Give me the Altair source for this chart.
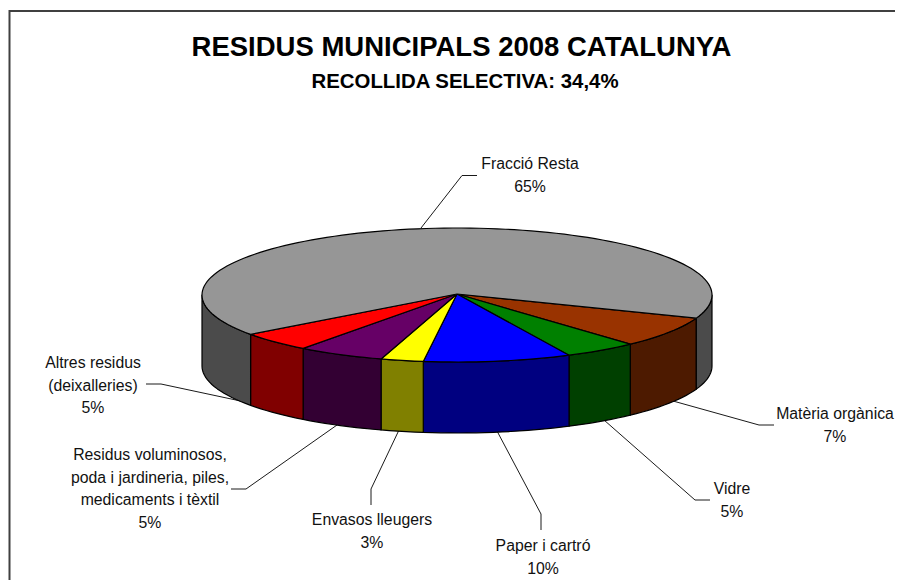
import math
import altair as alt
import pandas as pd

TITLE = "RESIDUS MUNICIPALS 2008 CATALUNYA"
SUBTITLE = "RECOLLIDA SELECTIVA: 34,4%"

categories = ["Matèria orgànica", "Vidre", "Paper i cartró", "Envasos lleugers",
              "Residus voluminosos", "Altres residus", "Fracció Resta"]
shares = [7.5, 4.65, 9.35, 2.7, 5.5, 4.7, 65.6]
top_colors = ["#993300", "#008000", "#0000ff", "#ffff00", "#660066", "#ff0000", "#969696"]
wall_colors = ["#4d1a00", "#004000", "#000080", "#808000", "#330033", "#800000", "#4b4b4b"]

label_lines = [
    ["Matèria orgànica", "7%"],
    ["Vidre", "5%"],
    ["Paper i cartró", "10%"],
    ["Envasos lleugers", "3%"],
    ["Residus voluminosos,", "poda i jardineria, piles,", "medicaments i tèxtil", "5%"],
    ["Altres residus", "(deixalleries)", "5%"],
    ["Fracció Resta", "65%"],
]
label_x = [835, 732, 543, 372, 150, 93, 530]
label_y0 = [414, 489, 546, 520, 455, 363, 164]
LINE_STEP = 22.6

leader_x = [[673, 759, 774], [604, 695, 710], [497, 541, 541], [399, 371, 371],
            [337, 246, 231], [250, 161, 146], [421, 462, 477]]
leader_y = [[401, 425, 425], [420, 500, 500], [431, 514, 530], [430, 489, 505],
            [425, 489, 489], [403, 384, 384], [228, 175.5, 175.5]]

frame_x = [903, 9.5, 9.5]
frame_y = [11, 11, 580]

CX, CY, RX, RY, DEPTH = 457, 295, 255, 67, 71
START = 20.2


def pt(t, dy=0.0):
    r = math.radians(t)
    return [CX + RX * math.cos(r), CY + RY * math.sin(r) + dy]


def arc(a, b, dy=0.0):
    n = max(2, int(abs(b - a) / 2) + 1)
    return [pt(a + (b - a) * i / n, dy) for i in range(n + 1)]


def poly(coords, fill):
    ring = coords + [coords[0]]
    return {"type": "Feature", "properties": {"fill": fill},
            "geometry": {"type": "Polygon", "coordinates": [ring]}}


walls, tops = [], []
a = START
for share, tc, wc in zip(shares, top_colors, wall_colors):
    b = a + share * 3.6
    tops.append(poly([[CX, CY - 1]] + arc(a, b), tc))
    for lo, hi in ((0, 180), (360, 540)):
        s, e = max(a, lo), min(b, hi)
        if e > s:
            walls.append(poly(arc(s, e) + arc(e, s, DEPTH), wc))
    a = b

rows = []
for lines, x, y0 in zip(label_lines, label_x, label_y0):
    for i, line in enumerate(lines):
        rows.append({"x": x, "y": y0 + i * LINE_STEP, "text": line})
labels = pd.DataFrame(rows)

leaders = pd.DataFrame([
    {"cat": c, "i": i, "x": x, "y": y}
    for c, xs, ys in zip(categories, leader_x, leader_y)
    for i, (x, y) in enumerate(zip(xs, ys))
])
frame = pd.DataFrame({"i": range(3), "x": frame_x, "y": frame_y})
heads = pd.DataFrame({"x": [461.5, 465], "y": [48, 82], "text": [TITLE, SUBTITLE],
                      "size": [27.5, 20.4]})

xs = alt.X("x:Q", scale=alt.Scale(domain=[8, 895], range=[0, 887], nice=False, zero=False), axis=None)
ys = alt.Y("y:Q", scale=alt.Scale(domain=[8, 580], range=[0, 572], nice=False, zero=False), axis=None)


def shapes(features):
    return alt.Chart(alt.Data(values=features)).mark_geoshape(
        stroke="black", strokeWidth=1.2, strokeJoin="round"
    ).encode(fill=alt.Fill("properties.fill:N", scale=None, legend=None)).project(
        type="identity", scale=1, translate=[-8, -8])


frame_layer = alt.Chart(frame).mark_line(color="#404040", strokeWidth=2, clip=True).encode(x=xs, y=ys, order="i:Q")
leader_layer = alt.Chart(leaders).mark_line(color="#1a1a1a", strokeWidth=1).encode(
    x=xs, y=ys, detail="cat:N", order="i:Q")
label_layer = alt.Chart(labels).mark_text(
    font="Liberation Sans", fontSize=15.8, color="#111111", align="center", baseline="middle"
).encode(x=xs, y=ys, text="text:N")
head_layer = alt.Chart(heads).mark_text(
    font="Liberation Sans", fontWeight="bold", color="black", align="center", baseline="middle"
).encode(x=xs, y=ys, text="text:N", size=alt.Size("size:Q", scale=None, legend=None))

chart = alt.layer(
    frame_layer, leader_layer, shapes(walls), shapes(tops), label_layer, head_layer
).properties(
    width=887, height=572, padding=0, autosize=alt.AutoSizeParams(type="none"), background="white"
).configure_view(stroke=None)

chart.save("out.html", embed_options={"renderer": "svg", "actions": False})
